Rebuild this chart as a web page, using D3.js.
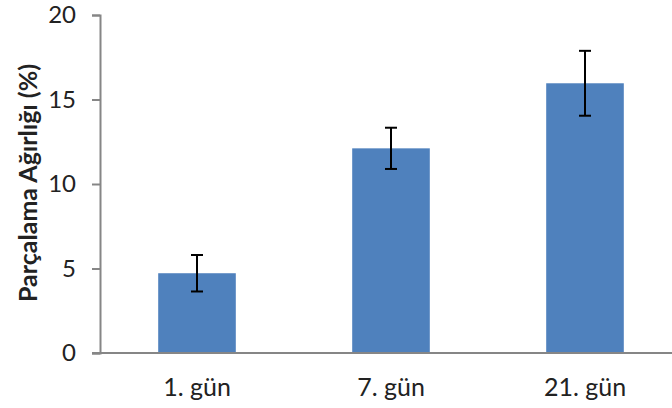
<!DOCTYPE html>
<html><head><meta charset="utf-8">
<script src="https://cdn.jsdelivr.net/npm/d3@7"></script>
<style>body{margin:0;background:#fff}svg{display:block}</style>
</head><body>
<script>
const categories = ["1. gün", "7. gün", "21. gün"];
const values = [4.72, 12.11, 15.96];
const errors = [1.08, 1.22, 1.92];
const yTicks = [0, 5, 10, 15, 20];
const yTitle = "Parçalama Ağırlığı (%)";

const W = 672, H = 408;
const svg = d3.select("body").append("svg").attr("width", W).attr("height", H);
const x = d3.scaleBand().domain(categories).range([100, 682]).padding(0);
const y = d3.scaleLinear().domain([0, 20]).range([353, 15]);
const font = "Lato, 'Open Sans', sans-serif";
const axisColor = "#868686";

// y axis
const ya = svg.append("g").attr("transform", "translate(100,0)")
  .call(d3.axisLeft(y).tickValues(yTicks).tickSize(8).tickPadding(16));
ya.select(".domain").attr("stroke", axisColor).attr("stroke-width", 2);
ya.selectAll(".tick line").attr("stroke", axisColor).attr("stroke-width", 2);
ya.selectAll(".tick text").attr("font-family", font).attr("font-size", 24).attr("fill", "#222");

// bars
const bw = x.bandwidth() * 0.4;
svg.selectAll("rect.bar").data(categories).enter().append("rect")
  .attr("class", "bar")
  .attr("x", d => x(d) + x.bandwidth() / 2 - bw / 2)
  .attr("width", bw)
  .attr("y", (d, i) => y(values[i]))
  .attr("height", (d, i) => y(0) - y(values[i]))
  .attr("fill", "#4F81BD");

// x axis
const xa = svg.append("g").attr("transform", "translate(0,353)")
  .call(d3.axisBottom(x).tickSize(0).tickPadding(25));
xa.select(".domain").attr("stroke", axisColor).attr("stroke-width", 2).attr("d", "M92,0H682");
xa.selectAll(".tick text").attr("font-family", font).attr("font-size", 25).attr("fill", "#222");

// error bars
const eb = svg.selectAll("g.err").data(categories).enter().append("g").attr("class", "err")
  .attr("stroke", "#000").attr("stroke-width", 2);
eb.append("line")
  .attr("x1", d => x(d) + x.bandwidth() / 2).attr("x2", d => x(d) + x.bandwidth() / 2)
  .attr("y1", (d, i) => y(values[i] + errors[i])).attr("y2", (d, i) => y(values[i] - errors[i]));
[1, -1].forEach(s => {
  eb.append("line")
    .attr("x1", d => x(d) + x.bandwidth() / 2 - 6).attr("x2", d => x(d) + x.bandwidth() / 2 + 6)
    .attr("y1", (d, i) => y(values[i] + s * errors[i])).attr("y2", (d, i) => y(values[i] + s * errors[i]));
});

// y title
svg.append("text").attr("transform", "translate(37,183) rotate(-90)")
  .attr("text-anchor", "middle").attr("font-family", font).attr("font-weight", "bold")
  .attr("font-size", 25).attr("fill", "#222").text(yTitle);
</script>
</body></html>
